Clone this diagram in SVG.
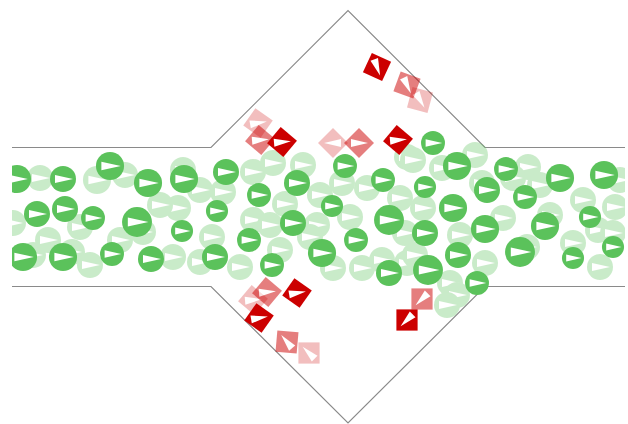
<svg xmlns="http://www.w3.org/2000/svg" xmlns:xlink="http://www.w3.org/1999/xlink" width="628" height="424" viewBox="0 0 628 424">
<style>
.wall{fill:none;stroke:#8a8a8a;stroke-width:1.2}
.l{opacity:0.32}
.r5{opacity:0.5}
.r2{opacity:0.25}
</style>
<defs>
<g id="G"><circle r="13" fill="#5bc25b"/><polygon points="-8,-4 -8,4 10,0" fill="#fff"/></g>
<g id="R"><polygon points="0,-15 15,0 0,15 -15,0" fill="#cc0000"/><polygon points="-8,-4 -8,4 9,0" fill="#fff"/></g>
<clipPath id="cp"><rect x="12" y="0" width="613" height="424"/></clipPath>
</defs>
<rect width="628" height="424" fill="#fff"/>
<g id="walls">
<polyline class="wall" points="12,147.5 211,147.5 348,10.5 485,147.5 625,147.5"/>
<polyline class="wall" points="12,286.5 211,286.5 348,423 485,286.5 625,286.5"/>
</g>
<g id="particles" clip-path="url(#cp)">
<g id="trail-green" class="l">
<use href="#G" transform="translate(40,178)"/>
<use href="#G" transform="translate(97,180) scale(1.08)"/>
<use href="#G" transform="translate(183,170)"/>
<use href="#G" transform="translate(178,208)"/>
<use href="#G" transform="translate(13,223)"/>
<use href="#G" transform="translate(80,227)"/>
<use href="#G" transform="translate(33,255)"/>
<use href="#G" transform="translate(72,252)"/>
<use href="#G" transform="translate(90,265)"/>
<use href="#G" transform="translate(173,257)"/>
<use href="#G" transform="translate(143,232)"/>
<use href="#G" transform="translate(200,190)"/>
<use href="#G" transform="translate(125,175)"/>
<use href="#G" transform="translate(160,205)"/>
<use href="#G" transform="translate(120,240)"/>
<use href="#G" transform="translate(200,262)"/>
<use href="#G" transform="translate(48,240)"/>
<use href="#G" transform="translate(253,172)"/>
<use href="#G" transform="translate(273,163)"/>
<use href="#G" transform="translate(303,165)"/>
<use href="#G" transform="translate(223,192)"/>
<use href="#G" transform="translate(285,204)"/>
<use href="#G" transform="translate(317,225)"/>
<use href="#G" transform="translate(342,183)"/>
<use href="#G" transform="translate(350,217)"/>
<use href="#G" transform="translate(367,188)"/>
<use href="#G" transform="translate(400,198)"/>
<use href="#G" transform="translate(407,157)"/>
<use href="#G" transform="translate(253,220)"/>
<use href="#G" transform="translate(280,250)"/>
<use href="#G" transform="translate(240,267)"/>
<use href="#G" transform="translate(310,237)"/>
<use href="#G" transform="translate(333,268)"/>
<use href="#G" transform="translate(362,268)"/>
<use href="#G" transform="translate(382,260)"/>
<use href="#G" transform="translate(407,263)"/>
<use href="#G" transform="translate(212,237)"/>
<use href="#G" transform="translate(405,233)"/>
<use href="#G" transform="translate(320,195)"/>
<use href="#G" transform="translate(270,225)"/>
<use href="#G" transform="translate(413,160)"/>
<use href="#G" transform="translate(475,155)"/>
<use href="#G" transform="translate(442,168)"/>
<use href="#G" transform="translate(528,167)"/>
<use href="#G" transform="translate(482,183)"/>
<use href="#G" transform="translate(513,178)"/>
<use href="#G" transform="translate(583,200)"/>
<use href="#G" transform="translate(615,207)"/>
<use href="#G" transform="translate(423,208)"/>
<use href="#G" transform="translate(503,218)"/>
<use href="#G" transform="translate(550,215)"/>
<use href="#G" transform="translate(598,230)"/>
<use href="#G" transform="translate(460,235)"/>
<use href="#G" transform="translate(573,243)"/>
<use href="#G" transform="translate(613,233)"/>
<use href="#G" transform="translate(485,263)"/>
<use href="#G" transform="translate(527,247)"/>
<use href="#G" transform="translate(600,267)"/>
<use href="#G" transform="translate(415,255)"/>
<use href="#G" transform="translate(450,283)"/>
<use href="#G" transform="translate(457,295)"/>
<use href="#G" transform="translate(447,305)"/>
<use href="#G" transform="translate(540,185)"/>
<use href="#G" transform="translate(620,180)"/>
</g>
<g id="trail-red">
<use href="#R" class="r5" transform="translate(407,85) rotate(65)"/>
<use href="#R" class="r2" transform="translate(420,100) rotate(60)"/>
<use href="#R" class="r2" transform="translate(258,123) rotate(-10)"/>
<use href="#R" class="r5" transform="translate(260,140) rotate(-5)"/>
<use href="#R" class="r2" transform="translate(333,143) rotate(180)"/>
<use href="#R" class="r5" transform="translate(359,143)"/>
<use href="#R" class="r2" transform="translate(253,300) rotate(-5)"/>
<use href="#R" class="r5" transform="translate(267,292) rotate(-5)"/>
<use href="#R" class="r5" transform="translate(287,342) rotate(-130)"/>
<use href="#R" class="r2" transform="translate(309,353) rotate(-135)"/>
<use href="#R" class="r5" transform="translate(422,299) rotate(135)"/>
</g>
<g id="green">
<use href="#G" transform="translate(17,179) scale(1.08)"/>
<use href="#G" transform="translate(63,179)"/>
<use href="#G" transform="translate(110,166) scale(1.08)"/>
<use href="#G" transform="translate(148,183) scale(1.08)"/>
<use href="#G" transform="translate(184,179) scale(1.08)"/>
<use href="#G" transform="translate(37,214)"/>
<use href="#G" transform="translate(65,209)"/>
<use href="#G" transform="translate(93,218) scale(0.92)"/>
<use href="#G" transform="translate(137,222) scale(1.15)"/>
<use href="#G" transform="translate(182,231) scale(0.85)"/>
<use href="#G" transform="translate(23,257) scale(1.08)"/>
<use href="#G" transform="translate(63,257) scale(1.08)"/>
<use href="#G" transform="translate(112,254) scale(0.92)"/>
<use href="#G" transform="translate(151,259)"/>
<use href="#G" transform="translate(215,257)"/>
<use href="#G" transform="translate(226,172)"/>
<use href="#G" transform="translate(259,195) scale(0.92)"/>
<use href="#G" transform="translate(297,183)"/>
<use href="#G" transform="translate(345,166) scale(0.92)"/>
<use href="#G" transform="translate(383,180) scale(0.92)"/>
<use href="#G" transform="translate(217,211) scale(0.85)"/>
<use href="#G" transform="translate(332,206) scale(0.85)"/>
<use href="#G" transform="translate(293,223)"/>
<use href="#G" transform="translate(389,220) scale(1.15)"/>
<use href="#G" transform="translate(249,240) scale(0.92)"/>
<use href="#G" transform="translate(356,240) scale(0.92)"/>
<use href="#G" transform="translate(272,265) scale(0.92)"/>
<use href="#G" transform="translate(322,253) scale(1.08)"/>
<use href="#G" transform="translate(389,273)"/>
<use href="#G" transform="translate(433,143) scale(0.92)"/>
<use href="#G" transform="translate(457,166) scale(1.08)"/>
<use href="#G" transform="translate(506,169) scale(0.92)"/>
<use href="#G" transform="translate(560,178) scale(1.08)"/>
<use href="#G" transform="translate(604,175) scale(1.08)"/>
<use href="#G" transform="translate(425,187) scale(0.85)"/>
<use href="#G" transform="translate(487,190)"/>
<use href="#G" transform="translate(525,197) scale(0.92)"/>
<use href="#G" transform="translate(453,208) scale(1.08)"/>
<use href="#G" transform="translate(590,217) scale(0.85)"/>
<use href="#G" transform="translate(485,229) scale(1.08)"/>
<use href="#G" transform="translate(545,226) scale(1.08)"/>
<use href="#G" transform="translate(425,233)"/>
<use href="#G" transform="translate(458,255)"/>
<use href="#G" transform="translate(520,252) scale(1.15)"/>
<use href="#G" transform="translate(573,258) scale(0.85)"/>
<use href="#G" transform="translate(613,247) scale(0.85)"/>
<use href="#G" transform="translate(428,270) scale(1.15)"/>
<use href="#G" transform="translate(477,283) scale(0.92)"/>
</g>
<g id="red">
<use href="#R" transform="translate(377,67) rotate(70)"/>
<use href="#R" transform="translate(282,142) rotate(-5)"/>
<use href="#R" transform="translate(398,140) rotate(-5)"/>
<use href="#R" transform="translate(297,293) rotate(-10)"/>
<use href="#R" transform="translate(259,318) rotate(-10)"/>
<use href="#R" transform="translate(407,320) rotate(135)"/>
</g>
</g>
</svg>
